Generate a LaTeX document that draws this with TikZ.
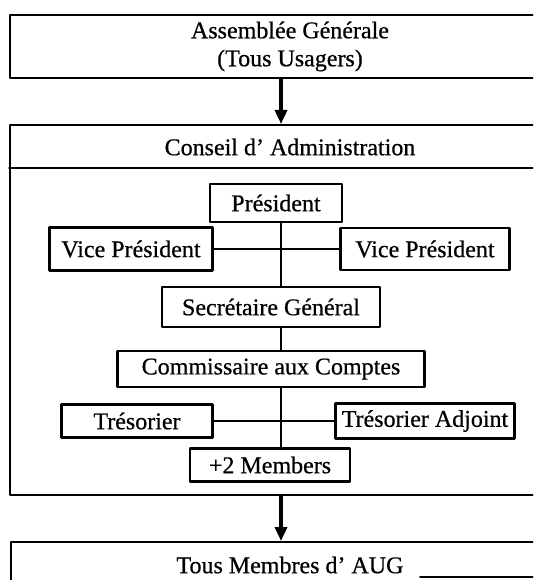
\documentclass[tikz,border=0pt]{standalone}
\usepackage{fontspec}
\setmainfont[FakeBold=0.6,AutoFakeBold=0.6]{Liberation Serif}
\usetikzlibrary{arrows.meta}

\begin{document}
\begin{tikzpicture}[
	line cap=round,
	line join=round,
	>={Triangle[width=12pt,length=14pt]},
	x=1pt, y=-1pt,
	every node/.style={font=\fontsize{24}{28}\selectfont\bfseries},
	cadre/.style={draw, line width=2pt, minimum width=560pt, inner sep=0pt},
	poste/.style={draw, line width=2.4pt, inner sep=0pt},
	lien/.style={line width=1.6pt},
	fleche/.style={->, line width=3.5pt, line cap=butt}
	]
	% Cadre de la page
	\useasboundingbox (0,0) rectangle (533,580);
	\clip (0,0) rectangle (533,580);
	
	% Axe vertical de l'organigramme
	\coordinate (axe) at (281,0);
	
	% Assemblée Générale
	\node[cadre, minimum height=63pt, align=center] (ag) at (290,46.5)
	{Assemblée Générale\\(Tous Usagers)};
	
	% Conseil d'Administration
	\node[cadre, minimum height=370pt] (ca) at (290,310) {};
	\node (catitre) at (290,147) {Conseil d' Administration};
	\draw[lien] (ca.west |- 0,168) -- (ca.east |- 0,168);
	
	% Tous Membres
	\node[cadre, minimum height=80pt] (tm) at (291,582) {};
	\node (tmtitre) at (290,565) {Tous Membres d' AUG};
	\draw[lien] (420,577) -- (tm.east |- 0,577);
	
	% Postes du bureau
	\node[poste, minimum width=132pt, minimum height=38pt] (pres) at (276,203) {Président};
	\node[poste, minimum width=163pt, minimum height=43pt] (vpg) at (131,249) {Vice Président};
	\node[poste, minimum width=169pt, minimum height=42pt] (vpd) at (425,249) {Vice Président};
	\node[poste, minimum width=218pt, minimum height=40pt] (sg) at (271,307) {Secrétaire Général};
	\node[poste, minimum width=307pt, minimum height=36pt] (cc) at (271,369) {Commissaire aux Comptes};
	\node[poste, minimum width=151pt, minimum height=33pt] (tres) at (137,421) {Trésorier};
	\node[poste, minimum width=179pt, minimum height=35pt] (tra) at (425,421) {Trésorier Adjoint};
	\node[poste, minimum width=160pt, minimum height=33pt] (mem) at (270,465) {+2 Members};
	
	% Liaisons
	\draw[lien] (pres.south -| axe) -- (sg.north -| axe);
	\draw[lien] (sg.south -| axe) -- (cc.north -| axe);
	\draw[lien] (cc.south -| axe) -- (mem.north -| axe);
	\draw[lien] (vpg.east) -- (vpd.west);
	\draw[lien] (tres.east) -- (tra.west);
	
	% Flèches entre les niveaux
	\draw[fleche] (ag.south -| axe) -- (ca.north -| axe);
	\draw[fleche] (ca.south -| axe) -- (tm.north -| axe);
	
\end{tikzpicture}
\end{document}
